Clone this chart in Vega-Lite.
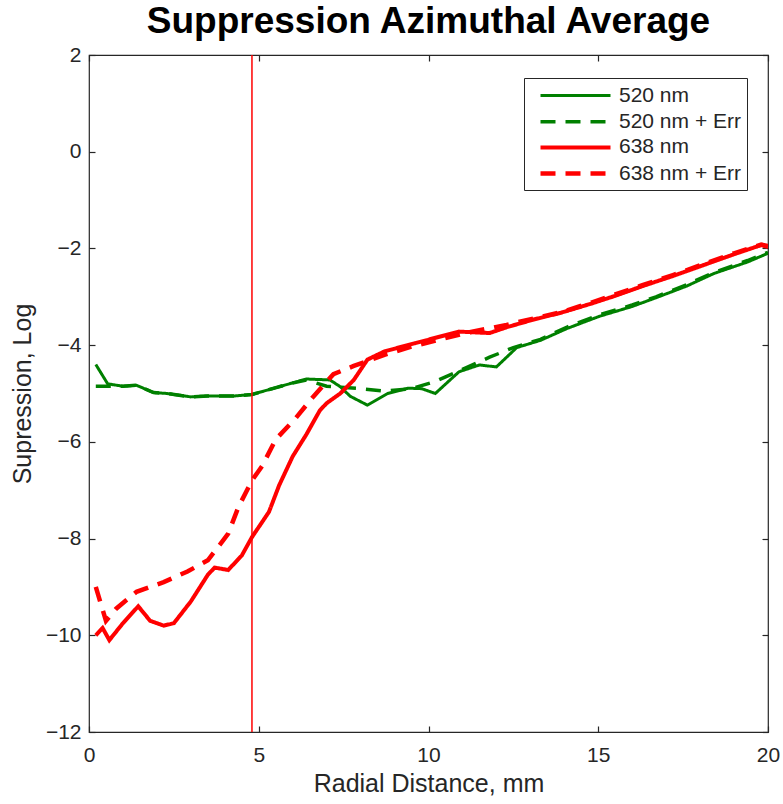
{
  "$schema": "https://vega.github.io/schema/vega-lite/v6.json",
  "autosize": "none",
  "padding": {"left": 89, "top": 55, "right": 15, "bottom": 72},
  "width": 679,
  "height": 677,
  "background": "white",
  "title": {"text": "Suppression Azimuthal Average", "font": "Liberation Sans", "fontSize": 37, "fontWeight": "bold", "color": "black", "anchor": "middle", "offset": 3},
  "config": {
    "view": {"stroke": "#262626", "strokeWidth": 1.2},
    "axis": {"domain": false, "offset": -6, "tickSize": 6, "tickColor": "#262626", "labelColor": "#262626", "titleColor": "#262626", "labelFont": "Liberation Sans", "titleFont": "Liberation Sans", "labelFontSize": 21, "titleFontSize": 25, "titleFontWeight": "normal", "grid": false, "tickWidth": 1.2}
  },
  "datasets": {
    "curves": [
      {"series": "520 nm", "x": 0.2, "y": -4.4},
      {"series": "520 nm", "x": 0.55, "y": -4.8},
      {"series": "520 nm", "x": 1.0, "y": -4.85},
      {"series": "520 nm", "x": 1.4, "y": -4.83},
      {"series": "520 nm", "x": 1.9, "y": -4.98},
      {"series": "520 nm", "x": 2.3, "y": -5.0},
      {"series": "520 nm", "x": 3.0, "y": -5.07},
      {"series": "520 nm", "x": 3.5, "y": -5.05},
      {"series": "520 nm", "x": 4.3, "y": -5.05},
      {"series": "520 nm", "x": 4.8, "y": -5.02},
      {"series": "520 nm", "x": 5.3, "y": -4.92},
      {"series": "520 nm", "x": 5.9, "y": -4.8},
      {"series": "520 nm", "x": 6.4, "y": -4.7},
      {"series": "520 nm", "x": 7.1, "y": -4.72},
      {"series": "520 nm", "x": 7.4, "y": -4.86},
      {"series": "520 nm", "x": 7.7, "y": -5.06},
      {"series": "520 nm", "x": 8.2, "y": -5.24},
      {"series": "520 nm", "x": 8.8, "y": -5.0},
      {"series": "520 nm", "x": 9.4, "y": -4.89},
      {"series": "520 nm", "x": 9.8, "y": -4.9},
      {"series": "520 nm", "x": 10.2, "y": -5.0},
      {"series": "520 nm", "x": 10.9, "y": -4.55},
      {"series": "520 nm", "x": 11.5, "y": -4.41},
      {"series": "520 nm", "x": 12.0, "y": -4.45},
      {"series": "520 nm", "x": 12.6, "y": -4.05},
      {"series": "520 nm", "x": 13.3, "y": -3.9},
      {"series": "520 nm", "x": 14.1, "y": -3.65},
      {"series": "520 nm", "x": 15.05, "y": -3.4},
      {"series": "520 nm", "x": 16.0, "y": -3.2},
      {"series": "520 nm", "x": 16.7, "y": -3.02},
      {"series": "520 nm", "x": 17.6, "y": -2.78},
      {"series": "520 nm", "x": 18.4, "y": -2.52},
      {"series": "520 nm", "x": 19.4, "y": -2.28},
      {"series": "520 nm", "x": 20.0, "y": -2.1},
      {"series": "520 nm + Err", "x": 0.2, "y": -4.85},
      {"series": "520 nm + Err", "x": 0.6, "y": -4.85},
      {"series": "520 nm + Err", "x": 1.0, "y": -4.85},
      {"series": "520 nm + Err", "x": 1.4, "y": -4.83},
      {"series": "520 nm + Err", "x": 1.9, "y": -4.98},
      {"series": "520 nm + Err", "x": 2.3, "y": -5.0},
      {"series": "520 nm + Err", "x": 3.0, "y": -5.07},
      {"series": "520 nm + Err", "x": 3.5, "y": -5.05},
      {"series": "520 nm + Err", "x": 4.3, "y": -5.05},
      {"series": "520 nm + Err", "x": 4.8, "y": -5.02},
      {"series": "520 nm + Err", "x": 5.3, "y": -4.92},
      {"series": "520 nm + Err", "x": 5.9, "y": -4.8},
      {"series": "520 nm + Err", "x": 6.4, "y": -4.72},
      {"series": "520 nm + Err", "x": 7.0, "y": -4.85},
      {"series": "520 nm + Err", "x": 8.0, "y": -4.9},
      {"series": "520 nm + Err", "x": 8.7, "y": -4.95},
      {"series": "520 nm + Err", "x": 9.5, "y": -4.9},
      {"series": "520 nm + Err", "x": 10.2, "y": -4.75},
      {"series": "520 nm + Err", "x": 11.0, "y": -4.5},
      {"series": "520 nm + Err", "x": 11.8, "y": -4.25},
      {"series": "520 nm + Err", "x": 12.5, "y": -4.05},
      {"series": "520 nm + Err", "x": 13.3, "y": -3.88},
      {"series": "520 nm + Err", "x": 14.1, "y": -3.62},
      {"series": "520 nm + Err", "x": 15.05, "y": -3.37},
      {"series": "520 nm + Err", "x": 16.0, "y": -3.17},
      {"series": "520 nm + Err", "x": 16.7, "y": -3.0},
      {"series": "520 nm + Err", "x": 17.6, "y": -2.75},
      {"series": "520 nm + Err", "x": 18.4, "y": -2.5},
      {"series": "520 nm + Err", "x": 19.4, "y": -2.25},
      {"series": "520 nm + Err", "x": 20.0, "y": -2.08},
      {"series": "638 nm", "x": 0.2, "y": -10.0},
      {"series": "638 nm", "x": 0.4, "y": -9.85},
      {"series": "638 nm", "x": 0.6, "y": -10.1},
      {"series": "638 nm", "x": 1.0, "y": -9.75},
      {"series": "638 nm", "x": 1.45, "y": -9.4},
      {"series": "638 nm", "x": 1.8, "y": -9.7},
      {"series": "638 nm", "x": 2.2, "y": -9.8},
      {"series": "638 nm", "x": 2.5, "y": -9.75},
      {"series": "638 nm", "x": 3.0, "y": -9.3},
      {"series": "638 nm", "x": 3.5, "y": -8.75},
      {"series": "638 nm", "x": 3.7, "y": -8.6},
      {"series": "638 nm", "x": 4.1, "y": -8.65},
      {"series": "638 nm", "x": 4.5, "y": -8.35},
      {"series": "638 nm", "x": 4.8, "y": -7.97},
      {"series": "638 nm", "x": 5.3, "y": -7.45},
      {"series": "638 nm", "x": 5.6, "y": -6.9},
      {"series": "638 nm", "x": 6.0, "y": -6.3},
      {"series": "638 nm", "x": 6.4, "y": -5.85},
      {"series": "638 nm", "x": 6.8, "y": -5.35},
      {"series": "638 nm", "x": 7.0, "y": -5.2},
      {"series": "638 nm", "x": 7.4, "y": -5.0},
      {"series": "638 nm", "x": 7.8, "y": -4.72},
      {"series": "638 nm", "x": 8.2, "y": -4.3},
      {"series": "638 nm", "x": 8.7, "y": -4.13},
      {"series": "638 nm", "x": 9.6, "y": -3.96},
      {"series": "638 nm", "x": 10.9, "y": -3.72},
      {"series": "638 nm", "x": 11.8, "y": -3.75},
      {"series": "638 nm", "x": 12.3, "y": -3.63},
      {"series": "638 nm", "x": 13.1, "y": -3.47},
      {"series": "638 nm", "x": 13.9, "y": -3.33},
      {"series": "638 nm", "x": 14.8, "y": -3.14},
      {"series": "638 nm", "x": 15.5, "y": -2.98},
      {"series": "638 nm", "x": 16.3, "y": -2.78},
      {"series": "638 nm", "x": 17.2, "y": -2.57},
      {"series": "638 nm", "x": 18.2, "y": -2.32},
      {"series": "638 nm", "x": 19.0, "y": -2.12},
      {"series": "638 nm", "x": 19.8, "y": -1.93},
      {"series": "638 nm", "x": 20.0, "y": -1.97},
      {"series": "638 nm + Err", "x": 0.2, "y": -9.0},
      {"series": "638 nm + Err", "x": 0.5, "y": -9.7},
      {"series": "638 nm + Err", "x": 0.8, "y": -9.45},
      {"series": "638 nm + Err", "x": 1.4, "y": -9.1},
      {"series": "638 nm + Err", "x": 2.2, "y": -8.9},
      {"series": "638 nm + Err", "x": 2.9, "y": -8.68},
      {"series": "638 nm + Err", "x": 3.5, "y": -8.45},
      {"series": "638 nm + Err", "x": 4.1, "y": -7.9},
      {"series": "638 nm + Err", "x": 4.4, "y": -7.35},
      {"series": "638 nm + Err", "x": 4.8, "y": -6.8},
      {"series": "638 nm + Err", "x": 5.1, "y": -6.5},
      {"series": "638 nm + Err", "x": 5.5, "y": -5.95},
      {"series": "638 nm + Err", "x": 6.1, "y": -5.5},
      {"series": "638 nm + Err", "x": 6.6, "y": -5.07},
      {"series": "638 nm + Err", "x": 7.2, "y": -4.6},
      {"series": "638 nm + Err", "x": 7.8, "y": -4.43},
      {"series": "638 nm + Err", "x": 8.7, "y": -4.2},
      {"series": "638 nm + Err", "x": 9.5, "y": -4.03},
      {"series": "638 nm + Err", "x": 11.1, "y": -3.75},
      {"series": "638 nm + Err", "x": 12.3, "y": -3.58},
      {"series": "638 nm + Err", "x": 13.1, "y": -3.45},
      {"series": "638 nm + Err", "x": 13.9, "y": -3.32},
      {"series": "638 nm + Err", "x": 14.8, "y": -3.12},
      {"series": "638 nm + Err", "x": 15.5, "y": -2.95},
      {"series": "638 nm + Err", "x": 16.3, "y": -2.76},
      {"series": "638 nm + Err", "x": 17.2, "y": -2.55},
      {"series": "638 nm + Err", "x": 18.2, "y": -2.3},
      {"series": "638 nm + Err", "x": 19.0, "y": -2.1},
      {"series": "638 nm + Err", "x": 19.8, "y": -1.92},
      {"series": "638 nm + Err", "x": 20.0, "y": -1.95}
    ],
    "marker": [{"x": 4.8, "top": 2, "bottom": -12}]
  },
  "layer": [
    {
      "data": {"name": "curves"},
      "mark": {"type": "line", "strokeCap": "butt", "strokeJoin": "miter", "clip": true},
      "encoding": {
        "x": {"field": "x", "type": "quantitative", "scale": {"domain": [0, 20], "nice": false}, "axis": {"title": "Radial Distance, mm", "values": [0, 5, 10, 15, 20], "labelPadding": 12, "titlePadding": 6, "labelFlush": false}},
        "y": {"field": "y", "type": "quantitative", "scale": {"domain": [-12, 2], "nice": false, "zero": false}, "axis": {"title": "Supression, Log", "values": [-12, -10, -8, -6, -4, -2, 0, 2], "labelPadding": 8, "titlePadding": 10, "labelFlush": false}},
        "color": {"field": "series", "type": "nominal", "scale": {"domain": ["520 nm", "520 nm + Err", "638 nm", "638 nm + Err"], "range": ["#008000", "#008000", "#ff0000", "#ff0000"]}, "legend": {"title": null, "orient": "none", "legendX": 435, "legendY": 23, "symbolType": "M-0.2,0H6.8", "symbolSize": 400, "labelFont": "Liberation Sans", "labelFontSize": 21, "labelColor": "#262626", "strokeColor": "#262626", "fillColor": "white", "padding": 6, "rowPadding": 3.7, "labelOffset": 64}},
        "strokeDash": {"field": "series", "type": "nominal", "scale": {"domain": ["520 nm", "520 nm + Err", "638 nm", "638 nm + Err"], "range": [[1, 0], [15, 10], [1, 0], [15, 10]]}, "legend": null},
        "strokeWidth": {"field": "series", "type": "nominal", "scale": {"domain": ["520 nm", "520 nm + Err", "638 nm", "638 nm + Err"], "range": [3, 4.5, 3, 6]}, "legend": null}
      }
    },
    {
      "data": {"name": "marker"},
      "mark": {"type": "rule", "color": "#ff0000", "strokeWidth": 1.5},
      "encoding": {
        "x": {"field": "x", "type": "quantitative", "axis": {"orient": "top", "labels": false, "title": null, "values": [0, 5, 10, 15, 20]}},
        "y": {"field": "top", "type": "quantitative", "axis": {"orient": "right", "labels": false, "title": null, "values": [-12, -10, -8, -6, -4, -2, 0, 2]}},
        "y2": {"field": "bottom"}
      }
    }
  ],
  "resolve": {"axis": {"x": "independent", "y": "independent"}}
}
